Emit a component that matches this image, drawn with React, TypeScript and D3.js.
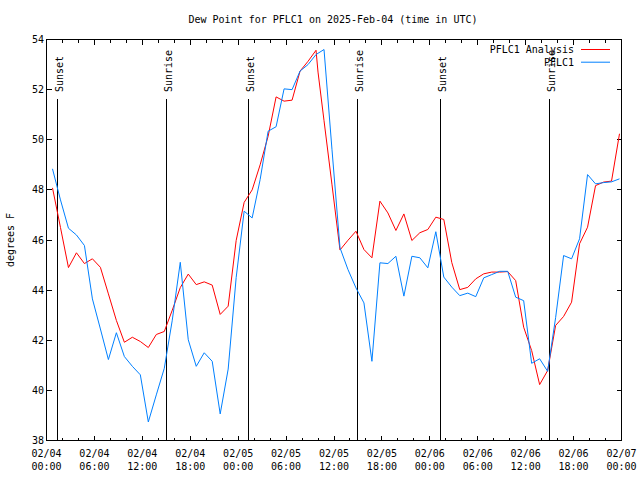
import React from "react";
import * as d3 from "d3";

const W = 640;
const H = 480;
const plotLeft = 46.5;
const plotRight = 621.5;
const plotTop = 39.5;
const plotBottom = 440.5;

const title = "Dew Point for PFLC1 on 2025-Feb-04 (time in UTC)";
const yLabel = "degrees F";
const startTime = "2025-02-04T00:00:00Z";
const endTime = "2025-02-07T00:00:00Z";
const firstSampleTime = "2025-02-04T00:45:00Z";

const yTicks = [38, 40, 42, 44, 46, 48, 50, 52, 54];

// hourly samples starting 02/04 00:45 UTC
const analysisValues = [
  48.08, 46.5, 44.9, 45.49, 45.06, 45.25, 44.91, 43.85, 42.79, 41.92,
  42.12, 41.95, 41.71, 42.23, 42.35, 43.2, 44.1, 44.64, 44.22, 44.33,
  44.2, 43.03, 43.36, 45.98, 47.5, 48.0, 49.0, 50.14, 51.71, 51.54,
  51.58, 52.74, 53.13, 53.57, 50.76, 48.2, 45.6, 45.99, 46.35, 45.62,
  45.29, 47.55, 47.08, 46.38, 47.04, 45.98, 46.29, 46.42, 46.91, 46.82,
  45.1, 44.02, 44.11, 44.45, 44.65, 44.72, 44.72, 44.74, 44.38, 42.52,
  41.59, 40.23, 40.79, 42.59, 42.95, 43.52, 45.85, 46.51, 48.17, 48.31,
  48.35, 50.24,
];
const analysisExtraTime = "2025-02-05T10:00:00Z";
const analysisExtraValue = 52.7;

const pflc1Values = [
  48.84, 47.6, 46.47, 46.2, 45.78, 43.65, 42.45, 41.23, 42.3, 41.35,
  40.96, 40.62, 38.74, 39.82, 40.88, 42.8, 45.11, 42.02, 40.96, 41.5,
  41.16, 39.06, 40.85, 44.5, 47.15, 46.88, 48.41, 50.34, 50.52, 52.03,
  52.0, 52.74, 53.0, 53.4, 53.6, 49.6, 45.69, 44.82, 44.09, 43.49,
  41.16, 45.09, 45.06, 45.35, 43.76, 45.35, 45.29, 44.89, 46.33, 44.52,
  44.12, 43.78, 43.88, 43.74, 44.49, 44.62, 44.75, 44.75, 43.72, 43.58,
  41.08, 41.26, 40.76, 42.9, 45.38, 45.25, 46.05, 48.61, 48.24, 48.29,
  48.32, 48.44,
];

const sunLabels = ["Sunset", "Sunrise", "Sunset", "Sunrise", "Sunset", "Sunrise"];
const sunTimes = [
  "2025-02-04T01:25:00Z",
  "2025-02-04T15:04:00Z",
  "2025-02-05T01:20:00Z",
  "2025-02-05T14:58:00Z",
  "2025-02-06T01:22:00Z",
  "2025-02-06T15:00:00Z",
];

const seriesNames = ["PFLC1 Analysis", "PFLC1"];
const seriesColors = ["#ff0000", "#0080ff"];

const FONT = "'DejaVu Sans Mono', 'Liberation Mono', monospace";

type Pt = { t: Date; v: number };

export default function App() {
  const x = d3
    .scaleUtc()
    .domain([new Date(startTime), new Date(endTime)])
    .range([plotLeft, plotRight]);
  const y = d3.scaleLinear().domain([38, 54]).range([plotBottom, plotTop]);

  const first = new Date(firstSampleTime);
  const sampleTimes = analysisValues.map((_, i) => d3.utcHour.offset(first, i));

  const analysisPts: Pt[] = analysisValues.map((v, i) => ({ t: sampleTimes[i], v }));
  analysisPts.push({ t: new Date(analysisExtraTime), v: analysisExtraValue });
  analysisPts.sort((a, b) => +a.t - +b.t);
  const pflcPts: Pt[] = pflc1Values.map((v, i) => ({ t: sampleTimes[i], v }));

  const line = d3
    .line<Pt>()
    .x((d) => x(d.t))
    .y((d) => y(d.v));

  const minorTicks = x.ticks(d3.utcHour.every(2)!);
  const majorTicks = x.ticks(d3.utcHour.every(6)!);
  const fmtDate = d3.utcFormat("%m/%d");
  const fmtTime = d3.utcFormat("%H:%M");

  const major = 5;
  const minor = 3;

  return (
    <svg
      width={W}
      height={H}
      viewBox={`0 0 ${W} ${H}`}
      style={{ position: "absolute", left: 0, top: 0, background: "#fff" }}
      fontFamily={FONT}
      fontSize={10}
    >
      <rect x={0} y={0} width={W} height={H} fill="#fff" />
      <text x={333} y={23} textAnchor="middle" fill="#000">
        {title}
      </text>

      {/* y ticks and labels */}
      {yTicks.map((t) => (
        <g key={"y" + t}>
          <line x1={plotLeft} x2={plotLeft + major} y1={y(t)} y2={y(t)} stroke="#000" shapeRendering="crispEdges" />
          <line x1={plotRight} x2={plotRight - major} y1={y(t)} y2={y(t)} stroke="#000" shapeRendering="crispEdges" />
          <text x={44} y={y(t) + 3.6} textAnchor="end" fill="#000">
            {t}
          </text>
        </g>
      ))}

      {/* x ticks */}
      {minorTicks.map((t, i) => {
        const isMajor = t.getUTCHours() % 6 === 0;
        const len = isMajor ? major : minor;
        return (
          <g key={"x" + i}>
            <line x1={x(t)} x2={x(t)} y1={plotBottom} y2={plotBottom - len} stroke="#000" shapeRendering="crispEdges" />
            <line x1={x(t)} x2={x(t)} y1={plotTop} y2={plotTop + len} stroke="#000" shapeRendering="crispEdges" />
          </g>
        );
      })}
      {majorTicks.map((t, i) => (
        <g key={"xl" + i}>
          <text x={x(t)} y={456.5} textAnchor="middle" fill="#000">
            {fmtDate(t)}
          </text>
          <text x={x(t)} y={470} textAnchor="middle" fill="#000">
            {fmtTime(t)}
          </text>
        </g>
      ))}

      {/* y axis label */}
      <text
        transform={`translate(14, 240) rotate(-90)`}
        textAnchor="middle"
        fill="#000"
      >
        {yLabel}
      </text>

      {/* sunrise / sunset markers */}
      {sunTimes.map((s, i) => {
        const sx = Math.floor(x(new Date(s))) + 0.5;
        return (
          <g key={"sun" + i}>
            <line x1={sx} x2={sx} y1={99} y2={plotBottom} stroke="#000" shapeRendering="crispEdges" />
            <text transform={`translate(${sx + 5}, 92) rotate(-90)`} textAnchor="start" fill="#000">
              {sunLabels[i]}
            </text>
          </g>
        );
      })}

      {/* series */}
      <path d={line(analysisPts) ?? ""} fill="none" stroke={seriesColors[0]} strokeWidth={1} />
      <path d={line(pflcPts) ?? ""} fill="none" stroke={seriesColors[1]} strokeWidth={1} />

      {/* legend */}
      {seriesNames.map((n, i) => (
        <g key={"lg" + i}>
          <text x={574} y={53.3 + i * 12.7} textAnchor="end" fill="#000">
            {n}
          </text>
          <line x1={581} x2={610} y1={49.5 + i * 12.7} y2={49.5 + i * 12.7} stroke={seriesColors[i]} strokeWidth={1} />
        </g>
      ))}

      {/* border */}
      <rect
        x={plotLeft}
        y={plotTop}
        width={plotRight - plotLeft}
        height={plotBottom - plotTop}
        fill="none"
        stroke="#000"
        shapeRendering="crispEdges"
      />
    </svg>
  );
}
